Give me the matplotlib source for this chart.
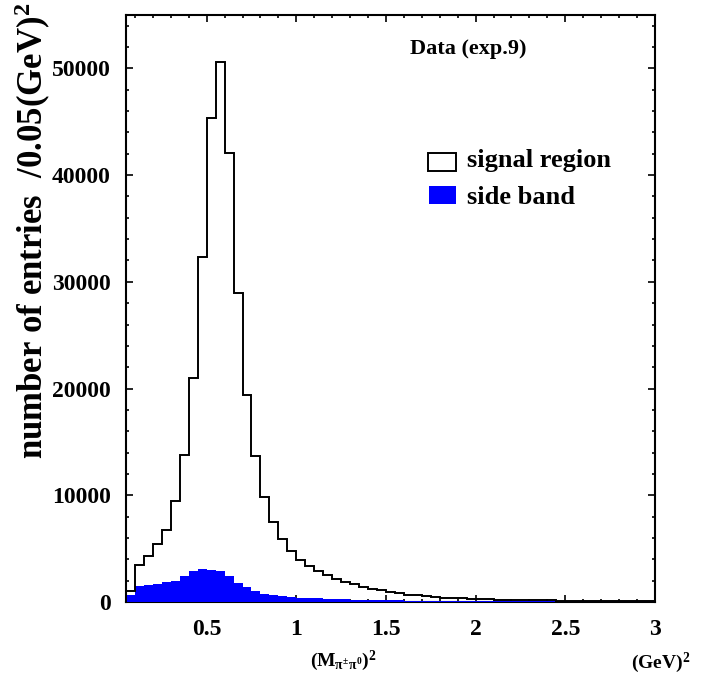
import matplotlib
matplotlib.use("Agg")
import matplotlib.pyplot as plt
from matplotlib.patches import Rectangle
import numpy as np

plt.rcParams["font.family"] = ["Liberation Serif", "DejaVu Serif"]
plt.rcParams["font.weight"] = "bold"
plt.rcParams["mathtext.fontset"] = "custom"
plt.rcParams["mathtext.rm"] = "Liberation Serif:bold"
plt.rcParams["mathtext.it"] = "Liberation Serif:bold"
plt.rcParams["mathtext.bf"] = "Liberation Serif:bold"

# binning: 0.05 (GeV)^2 bins from 0.05 to 3.0
bin_lo, bin_hi, bin_w = 0.05, 3.0, 0.05

# signal region entries per bin
signal = [1070, 3440, 4350, 5475, 6790, 9500, 13750, 21000, 32350, 45320,
          50600, 42100, 28940, 19380, 13680, 9880, 7490, 5880, 4760, 3910,
          3380, 2880, 2500, 2200, 1900, 1650, 1400, 1220, 1080, 950,
          850, 700, 620, 540, 480, 420, 380, 340, 300, 270,
          240, 220, 200, 185, 170, 160, 150, 140, 130, 125,
          120, 115, 110, 105, 100, 100, 95, 90, 90]

# side band entries per bin
sideband = [630, 1540, 1630, 1700, 1850, 2000, 2410, 2880, 3130, 2975,
            2880, 2410, 1760, 1360, 1000, 770, 620, 520, 460, 400,
            360, 330, 300, 270, 250, 230, 210, 190, 170, 150,
            140, 135, 130, 128, 125, 122, 120, 118, 115, 112,
            110, 108, 105, 102, 100, 98, 96, 94, 92, 90,
            88, 86, 84, 82, 80, 78, 76, 74, 72]

x_ticks = [0.5, 1, 1.5, 2, 2.5, 3]
x_ticklabels = ["0.5", "1", "1.5", "2", "2.5", "3"]
y_ticks = [0, 10000, 20000, 30000, 40000, 50000]

edges = np.linspace(bin_lo, bin_hi, len(signal) + 1)

fig = plt.figure(figsize=(7.05, 6.77), dpi=100)
ax = fig.add_axes([0.1787, 0.1108, 0.7503, 0.867])

ax.stairs(sideband, edges, fill=True, color="#0000ff", zorder=3)
ax.stairs(signal, edges, color="black", linewidth=1.4, zorder=4)

ax.set_xlim(bin_lo, bin_hi)
ax.set_ylim(0, 55000)
ax.set_xticks(x_ticks)
ax.set_xticklabels(x_ticklabels)
ax.set_xticks(np.arange(0.1, 3.0, 0.1), minor=True)
ax.set_yticks(y_ticks)
ax.set_yticklabels([str(v) for v in y_ticks])
ax.set_yticks(np.arange(0, 55001, 2000), minor=True)

ax.tick_params(which="both", direction="in", top=True, right=True, width=1.2)
ax.tick_params(which="major", length=5, labelsize=17)
ax.tick_params(which="minor", length=2.5)
ax.tick_params(axis="y", pad=11)
ax.tick_params(axis="x", pad=12)
for s in ax.spines.values():
    s.set_linewidth(1.5)

fig.text(33 / 705, 1 - 3 / 677, r"number of entries  /0.05(GeV)$^{2}$",
         rotation=90, ha="center", va="top", fontsize=25)
fig.text(343 / 705, 1 - 666 / 677, r"$(M_{\pi^{\pm}\pi^{0}})^{2}$",
         ha="center", va="baseline", fontsize=14)
fig.text(690 / 705, 1 - 668 / 677, r"(GeV)$^{2}$",
         ha="right", va="baseline", fontsize=14)
fig.text(410 / 705, 1 - 54 / 677, "Data (exp.9)", ha="left", va="baseline",
         fontsize=16)

# legend drawn by hand
fig.add_artist(Rectangle((428 / 705, 1 - 171 / 677), 28 / 705, 18 / 677,
                         transform=fig.transFigure, facecolor="white",
                         edgecolor="black", linewidth=1.4))
fig.add_artist(Rectangle((429 / 705, 1 - 204 / 677), 27 / 705, 18 / 677,
                         transform=fig.transFigure, facecolor="#0000ff",
                         edgecolor="none"))
fig.text(467 / 705, 1 - 167 / 677, "signal region", ha="left", va="baseline",
         fontsize=19)
fig.text(467 / 705, 1 - 204 / 677, "side band", ha="left", va="baseline",
         fontsize=19)

fig.savefig("out.png", dpi=100)
